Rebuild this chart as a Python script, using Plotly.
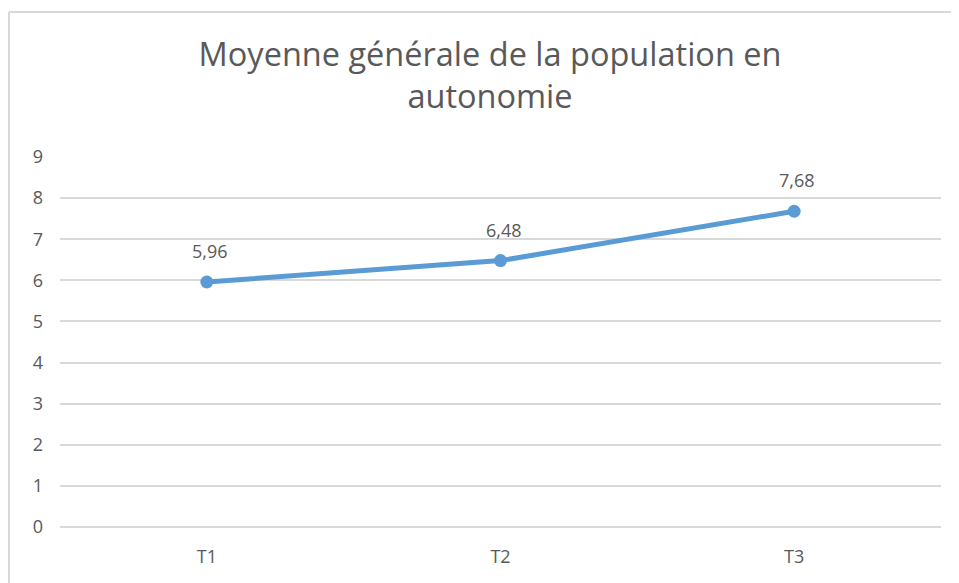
import plotly.graph_objects as go

categories = ["T1", "T2", "T3"]
values = [5.96, 6.48, 7.68]
labels = ["5,96", "6,48", "7,68"]
title_text = "Moyenne générale de la population en<br>autonomie"

# page body offset (browser default margin) compensation
OX, OY = 8, 7
W, H = 959 - OX, 583 - OY
L, R, T, B = 60 - OX, 18, 156 - OY, 57
pw = W - L - R
ph = H - T - B

fig = go.Figure()
fig.add_trace(go.Scatter(
    x=categories, y=values, mode="lines+markers",
    line=dict(color="#5B9BD5", width=5),
    marker=dict(color="#5B9BD5", size=13),
    cliponaxis=False, showlegend=False,
))

for c, v, t in zip(categories, values, labels):
    fig.add_annotation(x=c, y=v, text=t, showarrow=False, yshift=31, xshift=3,
                       font=dict(family="Open Sans", size=18, color="#595959"))

fig.update_layout(
    width=W, height=H,
    margin=dict(l=L, r=R, t=T, b=B),
    paper_bgcolor="white", plot_bgcolor="white",
    title=dict(text=title_text, x=(490 - OX) / W, xanchor="center",
               y=1 - (65 - OY) / H, yanchor="top",
               font=dict(family="Open Sans", size=32.5, color="#595959")),
    font=dict(family="Open Sans", color="#595959"),
    xaxis=dict(type="category", range=[-0.5, 2.5], showgrid=False, showline=False,
               ticks="", tickfont=dict(size=18, color="#595959"), ticklabelstandoff=17),
    yaxis=dict(range=[0, 9], dtick=1, showgrid=True, gridcolor="#D9D9D9", gridwidth=1.5,
               zeroline=True, zerolinecolor="#D9D9D9", zerolinewidth=1.5, showline=False,
               ticks="", tickfont=dict(size=18, color="#595959"), ticklabelstandoff=16),
)

fig.add_shape(type="line", xref="paper", yref="paper",
              x0=(9 - OX - L) / pw, x1=(9 - OX - L) / pw, y0=1 + (T - (11 - OY)) / ph, y1=-B / ph - 0.05,
              line=dict(color="#D9D9D9", width=2))
fig.add_shape(type="line", xref="paper", yref="paper",
              x0=(9 - OX - L) / pw, x1=1 + R / pw + 0.05, y0=1 + (T - (11 - OY)) / ph, y1=1 + (T - (11 - OY)) / ph,
              line=dict(color="#D9D9D9", width=2))

fig.write_html("out.html")
